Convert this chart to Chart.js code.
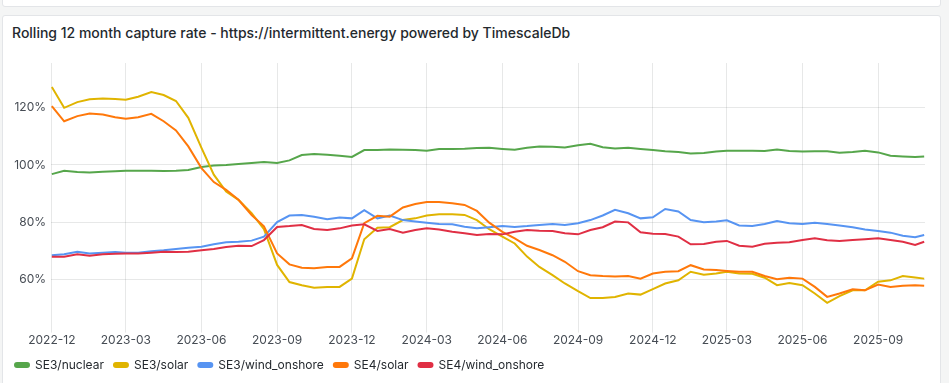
<!DOCTYPE html>
<html><head><meta charset="utf-8">
<script src="https://cdn.jsdelivr.net/npm/chart.js@4.4.1/dist/chart.umd.min.js"></script>
<style>
html,body{margin:0;padding:0;width:949px;height:383px;overflow:hidden;background:#f4f5f5;font-family:Inter,"Noto Sans",sans-serif;}
.panel{position:absolute;left:2px;width:939px;background:#fff;border:1px solid #e3e5e8;border-radius:3px;box-sizing:border-box;}
#p0{top:-10px;height:17px;}
#p1{top:15px;height:380px;}
#title{position:absolute;left:12px;top:24px;font-size:14px;font-weight:500;color:#24292e;line-height:18px;white-space:nowrap;}
#c{position:absolute;left:0;top:0;}
</style></head><body>
<div class="panel" id="p0"></div>
<div class="panel" id="p1"></div>
<div id="title">Rolling 12 month capture rate - https://intermittent.energy powered by TimescaleDb</div>
<canvas id="c" width="949" height="383" style="width:949px;height:383px"></canvas>
<script>
const dates = ['2022-12-01','2022-12-16',
'2023-01-01','2023-01-16','2023-02-01','2023-02-16','2023-03-01','2023-03-16','2023-04-01','2023-04-16','2023-05-01','2023-05-16','2023-06-01','2023-06-16',
'2023-07-01','2023-07-16','2023-08-01','2023-08-16','2023-09-01','2023-09-16','2023-10-01','2023-10-16','2023-11-01','2023-11-16','2023-12-01','2023-12-16',
'2024-01-01','2024-01-16','2024-02-01','2024-02-16','2024-03-01','2024-03-16','2024-04-01','2024-04-16','2024-05-01','2024-05-16','2024-06-01','2024-06-16',
'2024-07-01','2024-07-16','2024-08-01','2024-08-16','2024-09-01','2024-09-16','2024-10-01','2024-10-16','2024-11-01','2024-11-16','2024-12-01','2024-12-16',
'2025-01-01','2025-01-16','2025-02-01','2025-02-16','2025-03-01','2025-03-16','2025-04-01','2025-04-16','2025-05-01','2025-05-16','2025-06-01','2025-06-16',
'2025-07-01','2025-07-16','2025-08-01','2025-08-16','2025-09-01','2025-09-16','2025-10-01','2025-10-16','2025-10-27'];

const se3Nuclear = [96.8,98.0,
97.5,97.4,97.6,97.8,98.0,98.0,98.0,97.9,98.0,98.2,99.3,99.8,
100.0,100.3,100.7,101.0,100.7,101.6,103.5,103.8,103.6,103.2,102.8,105.2,
105.2,105.4,105.3,105.2,105.0,105.6,105.6,105.7,105.9,106.0,105.6,105.3,
106.0,106.5,106.4,106.1,106.9,107.4,106.2,105.8,106.0,105.6,105.2,104.8,
104.5,104.0,104.2,104.7,105.0,105.0,105.0,104.9,105.4,104.9,104.7,104.8,
104.8,104.3,104.5,105.0,104.4,103.2,103.0,102.8,103.0];

const se3Solar = [127.3,120.0,
122.0,123.0,123.3,123.1,122.8,123.9,125.5,124.5,122.4,116.5,106.0,96.6,
90.7,87.8,83.1,77.5,65.0,59.0,57.9,57.0,57.3,57.3,60.2,74.0,
78.0,78.2,80.7,81.3,82.3,82.7,82.7,82.5,80.7,77.5,74.9,72.5,
67.9,64.3,61.4,58.5,55.8,53.4,53.4,53.8,55.0,54.6,56.5,58.5,
59.6,62.6,61.6,62.0,62.6,62.0,61.9,60.5,57.9,58.7,57.9,55.0,
51.7,54.1,56.1,56.1,59.1,59.6,61.1,60.6,60.2];

const se3Wind = [68.4,68.7,
69.6,69.0,69.3,69.5,69.3,69.3,69.8,70.1,70.6,71.0,71.4,72.2,
72.9,73.1,73.5,74.9,80.0,82.3,82.5,81.9,81.0,81.6,81.3,84.2,
81.3,82.3,80.7,80.2,79.8,79.3,79.2,78.4,77.8,78.2,78.6,78.3,
78.6,79.0,79.3,79.0,79.6,80.7,82.3,84.3,83.1,81.3,81.7,84.6,
83.7,80.7,79.9,80.2,80.6,78.8,78.6,79.3,80.4,79.6,79.3,79.8,
79.3,78.8,78.2,77.4,76.9,76.3,75.2,74.7,75.5];

const se4Solar = [120.6,115.3,
117.1,118.0,117.7,116.7,116.2,116.7,117.9,115.3,112.1,106.5,98.9,94.0,
91.3,87.8,82.5,78.5,69.0,65.2,64.0,63.8,64.3,64.3,67.3,79.6,
82.2,81.9,85.1,86.3,87.0,87.0,86.6,86.0,83.9,79.8,76.6,74.3,
71.7,70.2,68.4,66.1,62.8,61.4,61.1,60.9,61.1,60.2,62.0,62.6,
62.8,64.9,63.4,63.2,62.9,62.6,62.6,61.1,60.0,60.5,60.2,57.3,
53.8,55.0,56.5,56.1,58.1,57.3,57.7,57.9,57.7];

const se4Wind = [67.9,67.9,
68.7,68.2,68.7,68.9,69.0,69.0,69.3,69.6,69.5,69.6,70.1,70.6,
71.3,71.7,71.6,73.7,78.3,78.6,79.0,77.6,77.2,77.8,78.8,79.2,
76.9,77.6,76.3,77.2,77.8,77.4,76.6,76.1,75.5,75.8,75.7,76.6,
77.2,77.0,76.9,76.1,75.7,77.2,78.2,80.2,79.9,76.4,75.9,75.8,
74.9,72.2,72.3,73.1,73.4,71.7,71.4,72.4,72.8,72.9,73.7,74.3,
73.6,73.4,73.7,74.0,74.3,73.7,73.1,72.0,73.1];

const seriesNames = ['SE3/nuclear','SE3/solar','SE3/wind_onshore','SE4/solar','SE4/wind_onshore'];
const seriesColors = ['#56A64B','#E0B400','#5794F2','#FF780A','#E02F44'];
const seriesValues = [se3Nuclear, se3Solar, se3Wind, se4Solar, se4Wind];

const tickDates = ['2022-12-01','2023-03-01','2023-06-01','2023-09-01','2023-12-01','2024-03-01','2024-06-01','2024-09-01','2024-12-01','2025-03-01','2025-06-01','2025-09-01'];
const tickLabels = ['2022-12','2023-03','2023-06','2023-09','2023-12','2024-03','2024-06','2024-09','2024-12','2025-03','2025-06','2025-09'];
const yTicks = [60, 80, 100, 120];
const xRange = ['2022-11-30','2025-10-28'];
const yRange = [43.4, 135.7];

const base = Date.UTC(2022, 11, 1);
function dayOf(s){ const p = s.split('-'); return (Date.UTC(+p[0], +p[1]-1, +p[2]) - base) / 86400000; }

const datasets = seriesNames.map((name, i) => ({
  label: name,
  data: dates.map((d, j) => ({x: dayOf(d), y: seriesValues[i][j]})),
  borderColor: seriesColors[i],
  backgroundColor: seriesColors[i],
  borderWidth: 2,
  pointRadius: 0,
  tension: 0,
  order: seriesNames.length - i
}));

const tickFont = {family: 'Inter', size: 12};
const gridColor = 'rgba(36,41,46,0.11)';

new Chart(document.getElementById('c'), {
  type: 'line',
  data: {datasets},
  options: {
    responsive: false,
    animation: false,
    layout: {padding: {left: 5, top: 63, right: 24, bottom: 2}},
    plugins: {
      tooltip: {enabled: false},
      legend: {
        position: 'bottom',
        align: 'start',
        labels: {
          boxWidth: 14, boxHeight: 4, useBorderRadius: true, borderRadius: 2,
          padding: 10, color: '#24292e', font: {family: 'Inter', size: 12},
          sort: (a, b) => a.datasetIndex - b.datasetIndex
        }
      }
    },
    scales: {
      x: {
        type: 'linear',
        min: dayOf(xRange[0]), max: dayOf(xRange[1]),
        afterBuildTicks: s => { s.ticks = tickDates.map(d => ({value: dayOf(d)})); },
        ticks: {autoSkip: false, maxRotation: 0, padding: 1, color: '#464c54', font: tickFont,
          callback: (v, i) => tickLabels[i]},
        grid: {color: gridColor, drawTicks: true, tickLength: 6},
        border: {display: false}
      },
      y: {
        min: yRange[0], max: yRange[1],
        afterBuildTicks: s => { s.ticks = yTicks.map(v => ({value: v})); },
        afterFit: s => { s.width = 46; },
        ticks: {padding: 5, color: '#464c54', font: tickFont, callback: v => v + '%'},
        grid: {color: gridColor, drawTicks: false},
        border: {display: false}
      }
    }
  }
});
</script>
</body></html>
